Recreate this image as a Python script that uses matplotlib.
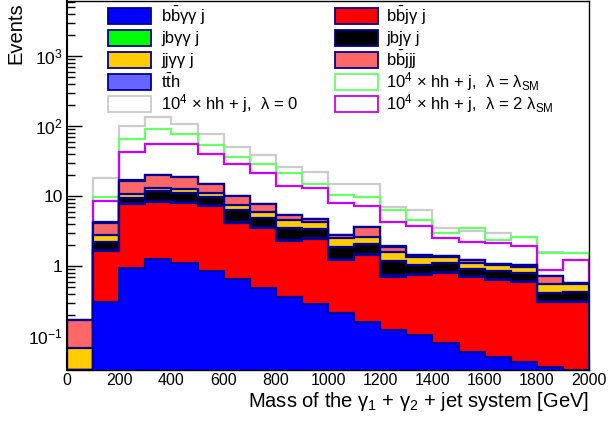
import numpy as np
import matplotlib.pyplot as plt
from matplotlib.patches import Rectangle
from matplotlib.ticker import FixedLocator, NullFormatter

plt.rcParams['font.family'] = ['Liberation Sans', 'DejaVu Sans']
plt.rcParams['mathtext.fontset'] = 'custom'
plt.rcParams['mathtext.rm'] = 'Liberation Sans'
plt.rcParams['mathtext.it'] = 'Liberation Sans:italic'
plt.rcParams['mathtext.bf'] = 'Liberation Sans:bold'

# 100 GeV bins from 0 to 2000
edges = np.arange(0, 2001, 100)

# backgrounds (stacked, bottom to top)
bbaa_j = [0, 0.31, 0.95, 1.25, 1.11, 0.86, 0.645, 0.48, 0.357, 0.284,
          0.21, 0.16, 0.122, 0.103, 0.079, 0.06, 0.05, 0.043, 0.036, 0.028]
bbja_j = [0, 1.35, 6.65, 6.85, 6.79, 6.44, 3.46, 2.98, 1.89, 2.14,
          1.01, 1.28, 0.58, 0.63, 0.72, 0.63, 0.58, 0.54, 0.27, 0.28]
jbaa_j = [0, 0.06, 0.25, 0.3, 0.25, 0.2, 0.15, 0.12, 0.08, 0.08,
          0.04, 0.05, 0.03, 0.03, 0.03, 0.02, 0.02, 0.02, 0.01, 0.01]
jbja_j = [0, 0.50, 1.65, 3.4, 3.05, 2.3, 2.05, 1.32, 1.17, 0.9,
          0.63, 0.57, 0.45, 0.27, 0.26, 0.19, 0.21, 0.19, 0.10, 0.11]
jjaa_j = [0.067, 0.55, 1.2, 1.4, 1.5, 1.3, 1.2, 1.1, 1.0, 0.8,
          0.6, 0.51, 0.4, 0.33, 0.24, 0.19, 0.17, 0.19, 0.13, 0.12]
bbjjj = [0.10, 1.4, 5.9, 6.5, 6.1, 3.9, 2.4, 1.6, 0.85, 0.5,
         0.28, 0.98, 0.31, 0.06, 0.06, 0.11, 0.04, 0.04, 0.17, 0.03]
tth = [0, 0.02, 0.08, 0.1, 0.1, 0.08, 0.06, 0.04, 0.03, 0.03,
       0.02, 0.02, 0.01, 0.01, 0.01, 0.01, 0.005, 0.005, 0.004, 0.003]

# signals, scaled by 10^4
hh_l0 = [0, 17.9, 100, 133, 106, 77, 50.6, 38.6, 25.6, 22.2,
         14.7, 14.7, 7.0, 6.3, 3.45, 3.2, 2.93, 2.6, 1.6, 1.52]
hh_sm = [0, 9.8, 64.6, 89.5, 77, 53.5, 35.7, 28.6, 21.5, 14.7,
         10.3, 9.8, 6.3, 4.54, 2.93, 3.53, 2.35, 2.57, 1.52, 1.52]
hh_2sm = [0, 8.5, 43, 55, 55, 40, 29, 21.3, 14, 12.9,
          8.0, 7.2, 4.3, 3.77, 2.48, 2.18, 2.1, 1.95, 0.88, 1.22]

bkg_labels = ['b$\\bar{\\mathrm{b}}$γγ j', 'b$\\bar{\\mathrm{b}}$jγ j', 'jbγγ j', 'jbjγ j',
              'jjγγ j', 'b$\\bar{\\mathrm{b}}$jjj', 't$\\bar{\\mathrm{t}}$h']
bkg_colors = ['#0000ff', '#ff0000', '#00ff00', '#000000', '#ffcc00', '#ff6666', '#6666ff']
sig_labels = ['10$^{4}$ × hh + j,  λ = 0',
              '10$^{4}$ × hh + j,  λ = λ$_{\\mathrm{SM}}$',
              '10$^{4}$ × hh + j,  λ = 2 λ$_{\\mathrm{SM}}$']
sig_colors = ['#cccccc', '#66ff66', '#cc00ff']
navy = '#000099'

ymin, ymax = 0.0327, 6100

fig = plt.figure(figsize=(6.1, 4.21), dpi=100)
ax = fig.add_axes([67/610, 1 - 370/421, 522/610, 369/421])
ax.set_yscale('log')
ax.set_xlim(0, 2000)
ax.set_ylim(ymin, ymax)

# signal outlines (drawn under the stack)
for vals, col in zip([hh_l0, hh_sm, hh_2sm], sig_colors):
    ax.stairs(np.maximum(vals, ymin), edges, baseline=ymin, color=col, linewidth=1.6, zorder=1.5)

# stack: draw the cumulative sums from the top layer down
cum = np.cumsum(np.array([bbaa_j, bbja_j, jbaa_j, jbja_j, jjaa_j, bbjjj, tth]), axis=0)
for vals, col in reversed(list(zip(cum, bkg_colors))):
    ax.stairs(np.maximum(vals, ymin), edges, baseline=ymin, fill=True,
              facecolor=col, edgecolor=navy, linewidth=1.6, zorder=2)

# axes styling, ROOT-like
ax.set_axisbelow(True)
ax.yaxis.set_major_locator(FixedLocator([0.1, 1, 10, 100, 1000]))
ax.yaxis.set_minor_locator(FixedLocator([m * 10.0**k for k in range(-2, 4) for m in range(2, 10)]))
ax.yaxis.set_minor_formatter(NullFormatter())
ax.set_yticklabels(['10$^{-1}$', '1', '10', '10$^{2}$', '10$^{3}$'])
ax.set_xticks(np.arange(0, 2001, 200))
ax.tick_params(axis='both', which='both', direction='in', labelsize=11.5)
ax.tick_params(axis='y', which='major', length=11, width=1, labelsize=12.5, pad=3)
ax.tick_params(axis='y', which='minor', length=6, width=1)
ax.tick_params(axis='x', which='major', length=8, pad=2.5)
for s in ['top', 'right']:
    ax.spines[s].set_linewidth(1)
ax.spines['left'].set_linewidth(1.5)
ax.spines['bottom'].set_linewidth(1)

fig.text(589/610, 1 - 407/421, 'Mass of the γ$_{1}$ + γ$_{2}$ + jet system [GeV]',
         ha='right', va='baseline', fontsize=14.5)
fig.text(16/610, 1 - 64/421, 'Events', rotation=90, ha='center', va='bottom', fontsize=14.5)

# legend, two columns
def fx(px):
    return px / 610

def fy(py):
    return 1 - py / 421

rows = [16, 38, 60, 82, 104]
left_entries = [(bkg_labels[0], bkg_colors[0], navy), (bkg_labels[2], bkg_colors[2], navy),
                (bkg_labels[4], bkg_colors[4], navy), (bkg_labels[6], bkg_colors[6], navy),
                (sig_labels[0], 'white', sig_colors[0])]
right_entries = [(bkg_labels[1], bkg_colors[1], navy), (bkg_labels[3], bkg_colors[3], navy),
                 (bkg_labels[5], bkg_colors[5], navy), (sig_labels[1], 'white', sig_colors[1]),
                 (sig_labels[2], 'white', sig_colors[2])]
for (bx, tx), entries in [((108, 161), left_entries), ((335, 386), right_entries)]:
    for row, (lab, fc, ec) in zip(rows, entries):
        fig.patches.append(Rectangle((fx(bx), fy(row + 8)), fx(43), 16/421, facecolor=fc,
                                     edgecolor=ec, linewidth=1.3, transform=fig.transFigure))
        fig.text(fx(tx), fy(row), lab, ha='left', va='center', fontsize=12)

fig.savefig('out.png', dpi=100)
